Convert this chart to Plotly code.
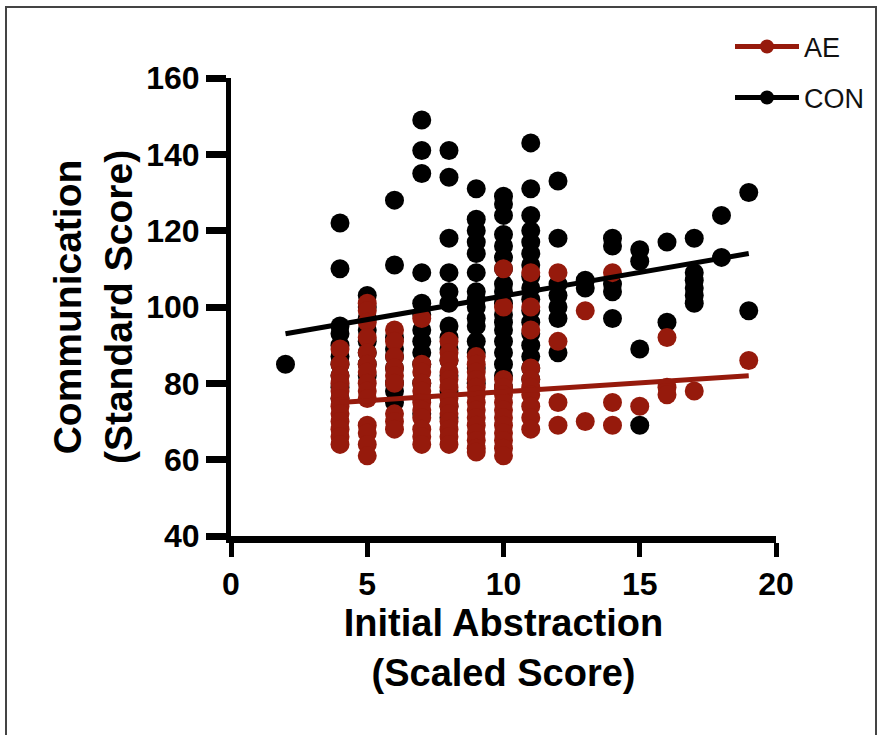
import plotly.graph_objects as go

# ---- data ----
con_x_vals = {
    2: [85],
    4: [122, 110, 95, 93, 90, 87, 85, 82, 79, 76],
    5: [103, 100, 97, 94, 91, 88, 85, 82],
    6: [128, 111, 92, 89, 87, 84, 80, 78, 75],
    7: [149, 141, 135, 109, 101, 98, 94, 91, 88, 85, 80, 76, 72],
    8: [141, 134, 118, 109, 104, 101, 95, 92, 89, 86, 82, 78, 74, 71],
    9: [131, 123, 120, 117, 114, 109, 104, 102, 100, 97, 95, 91, 88, 84, 80],
    10: [129, 127, 124, 119, 116, 113, 110, 106, 104, 101, 98, 96, 94, 91, 88, 85, 82, 79],
    11: [143, 131, 124, 120, 117, 114, 111, 108, 105, 102, 99, 96, 93, 90, 87, 84, 81],
    12: [133, 118, 106, 103, 100, 97, 88],
    13: [107, 105],
    14: [118, 116, 106, 104, 97],
    15: [115, 112, 89, 69],
    16: [117, 96],
    17: [118, 109, 107, 105, 103, 101],
    18: [124, 113],
    19: [130, 99],
}
ae_x_vals = {
    4: [89, 85, 82, 80, 78, 76, 74, 72, 70, 68, 66, 64],
    5: [101, 99, 96, 92, 88, 85, 83, 80, 78, 76, 69, 67, 64, 61],
    6: [94, 91, 87, 84, 82, 80, 72, 70, 68],
    7: [97, 85, 83, 80, 78, 75, 73, 71, 68, 66, 64],
    8: [91, 88, 86, 83, 81, 79, 76, 74, 72, 70, 68, 66, 64],
    9: [87, 85, 83, 81, 79, 77, 75, 73, 71, 69, 67, 65, 63, 62],
    10: [110, 100, 81, 79, 77, 75, 73, 71, 69, 67, 65, 63, 61],
    11: [109, 100, 94, 84, 81, 79, 77, 74, 71, 68],
    12: [109, 91, 75, 69],
    13: [99, 70],
    14: [109, 75, 69],
    15: [74],
    16: [92, 79, 77],
    17: [78],
    19: [86],
}
con_fit_x = [2, 19]
con_fit_y = [93, 114]
ae_fit_x = [4, 19]
ae_fit_y = [75, 82]

x_ticks = [0, 5, 10, 15, 20]
y_ticks = [40, 60, 80, 100, 120, 140, 160]

con_x = [x for x, ys in con_x_vals.items() for _ in ys]
con_y = [y for ys in con_x_vals.values() for y in ys]
ae_x = [x for x, ys in ae_x_vals.items() for _ in ys]
ae_y = [y for ys in ae_x_vals.values() for y in ys]

RED = "#961a0c"
BLACK = "#000000"
FONT = "Liberation Sans, Arial, sans-serif"

fig = go.Figure()
fig.add_trace(go.Scatter(x=con_x, y=con_y, mode="markers", showlegend=False,
                         marker=dict(color=BLACK, size=19, line=dict(width=0))))
fig.add_trace(go.Scatter(x=ae_x, y=ae_y, mode="markers", showlegend=False,
                         marker=dict(color=RED, size=19, line=dict(width=0))))
fig.add_trace(go.Scatter(x=con_fit_x, y=con_fit_y, mode="lines", showlegend=False,
                         line=dict(color=BLACK, width=5)))
fig.add_trace(go.Scatter(x=ae_fit_x, y=ae_fit_y, mode="lines", showlegend=False,
                         line=dict(color=RED, width=5)))
# legend entries
fig.add_trace(go.Scatter(x=[None], y=[None], mode="lines+markers", name="AE",
                         line=dict(color=RED, width=5), marker=dict(color=RED, size=14),
                         legend="legend"))
fig.add_trace(go.Scatter(x=[None], y=[None], mode="lines+markers", name="CON",
                         line=dict(color=BLACK, width=5), marker=dict(color=BLACK, size=14),
                         legend="legend2"))

L, R, T, B = 231, 776, 78, 536
W, H = 880, 735

def px2paper_x(px):
    return (px - L) / (R - L)

def px2paper_y(py):
    return (B - py) / (B - T)

legend_common = dict(font=dict(family=FONT, size=27, color="#111"),
                     bgcolor="rgba(0,0,0,0)", itemwidth=64,
                     xanchor="left", yanchor="middle")

fig.update_layout(
    width=W, height=H,
    margin=dict(l=L, r=W - R, t=T, b=H - B, autoexpand=False),
    paper_bgcolor="white", plot_bgcolor="white",
    font=dict(family=FONT, color="black"),
    legend=dict(x=px2paper_x(730), y=px2paper_y(47), **legend_common),
    legend2=dict(x=px2paper_x(730), y=px2paper_y(98), **legend_common),
    xaxis=dict(
        range=[0, 20], tickvals=x_ticks, ticktext=[str(v) for v in x_ticks],
        showgrid=False, zeroline=False, automargin=False,
        showline=True, linecolor="black", linewidth=7,
        ticks="outside", ticklen=14, tickwidth=5, tickcolor="black",
        tickfont=dict(family=FONT, size=32, color="black", weight="bold"),
        title=dict(text="Initial Abstraction<br>(Scaled Score)",
                   font=dict(family=FONT, size=38, color="black", weight="bold"),
                   standoff=10),
    ),
    yaxis=dict(
        range=[40, 160], tickvals=y_ticks, ticktext=[str(v) for v in y_ticks],
        showgrid=False, zeroline=False, automargin=False,
        showline=True, linecolor="black", linewidth=5,
        ticks="outside", ticklen=20, tickwidth=7, tickcolor="black",
        tickfont=dict(family=FONT, size=32, color="black", weight="bold"),
        title=dict(text="Communication<br>(Standard Score)",
                   font=dict(family=FONT, size=39, color="black", weight="bold"),
                   standoff=3),
    ),
    shapes=[dict(type="rect", xref="paper", yref="paper",
                 x0=px2paper_x(6), x1=px2paper_x(876),
                 y0=px2paper_y(745), y1=px2paper_y(7),
                 line=dict(color="#444", width=2), fillcolor="rgba(0,0,0,0)",
                 layer="below")],
)

fig.write_html("out.html", config={"displayModeBar": False},
               post_script="document.body.style.margin='0px';document.body.style.overflow='hidden';")
